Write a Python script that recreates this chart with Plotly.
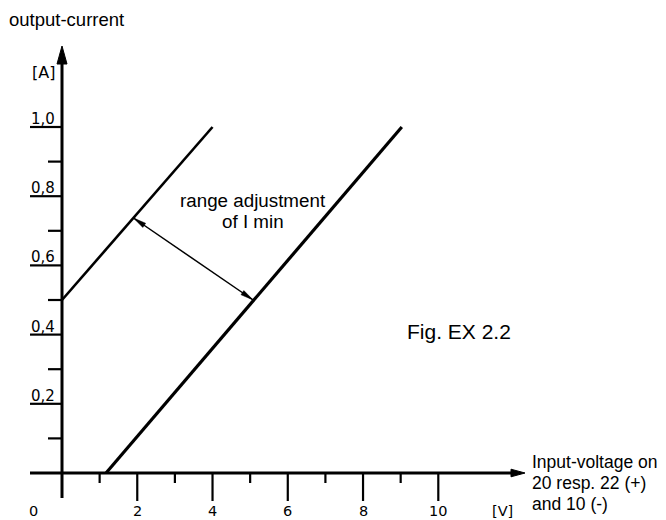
import math
import plotly.graph_objects as go

# ---------------- data ----------------
left_v = [0.0, 4.0]          # I min setting: upper line
left_a = [0.5, 1.0]
right_v = [1.17, 9.03]       # lower line
right_a = [0.0, 1.0]
arrow_v = [1.9, 5.08]        # range adjustment double arrow
arrow_a = [0.737, 0.5]

x_major = [2, 4, 6, 8, 10]
x_minor = [1, 3, 5, 7, 9]
x_labels = ["2", "4", "6", "8", "10"]
y_major = [0.2, 0.4, 0.6, 0.8, 1.0]
y_minor = [0.1, 0.3, 0.5, 0.7, 0.9]
y_labels = ["0,2", "0,4", "0,6", "0,8", "1,0"]

# ---------------- geometry (window pixels) ----------------
W, H = 666, 520
PAGE = 8                  # default body margin of the html page
OX, OY = 62.0, 473.0      # window pixel position of origin
SX, SY = 37.63, 346.0     # pixels per V, per A


def X(px):
    return (px - OX) / SX


def Y(py):
    return (OY - py) / SY


def dx(p):
    return p / SX


def dy(p):
    return p / SY


TXT = "Liberation Sans, Arial, sans-serif"
TICKF = "DejaVu Sans, sans-serif"
BLACK = "#000000"

fig = go.Figure()

fig.add_trace(go.Scatter(x=left_v, y=left_a, mode="lines",
                         line=dict(color=BLACK, width=2.6), hoverinfo="skip"))
fig.add_trace(go.Scatter(x=right_v, y=right_a, mode="lines",
                         line=dict(color=BLACK, width=3.2), hoverinfo="skip"))
fig.add_trace(go.Scatter(x=arrow_v, y=arrow_a, mode="lines",
                         line=dict(color=BLACK, width=1.5), hoverinfo="skip"))

shapes = []
# axes
shapes.append(dict(type="line", x0=0, x1=0, y0=Y(498), y1=Y(60),
                   line=dict(color=BLACK, width=3)))
shapes.append(dict(type="line", x0=X(30), x1=X(514), y0=0, y1=0,
                   line=dict(color=BLACK, width=3)))
# axis arrow heads
shapes.append(dict(type="path",
                   path=f"M0,{Y(46)} L{dx(-5)},{Y(64)} L{dx(5)},{Y(64)} Z",
                   fillcolor=BLACK, line=dict(color=BLACK, width=1)))
shapes.append(dict(type="path",
                   path=f"M{X(525)},0 L{X(511)},{dy(3.8)} L{X(511)},{dy(-3.8)} Z",
                   fillcolor=BLACK, line=dict(color=BLACK, width=1)))
# x ticks
for v in x_major:
    shapes.append(dict(type="line", x0=v, x1=v, y0=0, y1=-dy(28),
                       line=dict(color=BLACK, width=2.2)))
for v in x_minor:
    shapes.append(dict(type="line", x0=v, x1=v, y0=0, y1=-dy(10),
                       line=dict(color=BLACK, width=2.2)))
# y ticks
for a in y_major:
    shapes.append(dict(type="line", x0=X(30), x1=0, y0=a, y1=a,
                       line=dict(color=BLACK, width=2.2)))
for a in y_minor:
    shapes.append(dict(type="line", x0=X(48), x1=0, y0=a, y1=a,
                       line=dict(color=BLACK, width=2.2)))


def head(xs, ys, xe, ye, L=13, Wd=5):
    ux, uy = (xe - xs) * SX, (ye - ys) * SY
    n = math.hypot(ux, uy)
    ux, uy = ux / n, uy / n
    bx, by = -L * ux, -L * uy
    nx, ny = -uy * Wd / 2, ux * Wd / 2
    return dict(type="path",
                path=(f"M{xe},{ye} L{xe + dx(bx + nx)},{ye + dy(by + ny)} "
                      f"L{xe + dx(bx - nx)},{ye + dy(by - ny)} Z"),
                fillcolor=BLACK, line=dict(color=BLACK, width=0.5))


shapes.append(head(arrow_v[0], arrow_a[0], arrow_v[1], arrow_a[1]))
shapes.append(head(arrow_v[1], arrow_a[1], arrow_v[0], arrow_a[0]))

ann = []
for a, t in zip(y_major, y_labels):
    ann.append(dict(x=X(29), y=a, text=t, showarrow=False, xanchor="left",
                    yanchor="bottom", yshift=-3,
                    font=dict(family=TICKF, size=15, color=BLACK)))
for v, t in zip(x_major, x_labels):
    ann.append(dict(x=v, y=Y(519.5), text=t, showarrow=False, xanchor="center",
                    yanchor="bottom", borderpad=0,
                    font=dict(family=TICKF, size=14.5, color=BLACK)))
ann.append(dict(x=X(33.5), y=Y(519.5), text="0", showarrow=False,
                xanchor="center", yanchor="bottom", borderpad=0,
                font=dict(family=TICKF, size=14.5, color=BLACK)))
ann.append(dict(x=X(502.5), y=Y(519.5), text="[V]", showarrow=False,
                xanchor="center", yanchor="bottom", borderpad=0,
                font=dict(family=TICKF, size=14.5, color=BLACK)))
ann.append(dict(x=X(43.5), y=Y(72.5), text="[A]", showarrow=False,
                xanchor="center", yanchor="middle",
                font=dict(family=TICKF, size=16, color=BLACK)))

ann.append(dict(x=X(10), y=Y(19), xshift=-3, text="output-current",
                showarrow=False, xanchor="left", yanchor="middle",
                font=dict(family=TXT, size=18.5, color=BLACK)))
ann.append(dict(x=X(252.5), y=Y(200), text="range adjustment", showarrow=False,
                xanchor="center", yanchor="middle",
                font=dict(family=TXT, size=18.8, color=BLACK)))
ann.append(dict(x=X(253), y=Y(221), text="of I min", showarrow=False,
                xanchor="center", yanchor="middle",
                font=dict(family=TXT, size=18.8, color=BLACK)))
ann.append(dict(x=X(458.7), y=Y(331), text="Fig. EX 2.2", showarrow=False,
                xanchor="center", yanchor="middle",
                font=dict(family=TXT, size=21, color=BLACK)))
for py, t in zip([462, 483, 504], ["Input-voltage on", "20 resp. 22 (+)", "and 10 (-)"]):
    ann.append(dict(x=X(530), y=Y(py), text=t, showarrow=False,
                    xanchor="left", yanchor="middle",
                    font=dict(family=TXT, size=17.5, color=BLACK)))

fig.update_layout(
    width=W, height=H,
    margin=dict(l=0, r=0, t=0, b=0),
    paper_bgcolor="white", plot_bgcolor="white",
    showlegend=False,
    xaxis=dict(range=[X(PAGE), X(PAGE + W)], visible=False, fixedrange=True),
    yaxis=dict(range=[Y(PAGE + H), Y(PAGE)], visible=False, fixedrange=True),
    shapes=shapes,
    annotations=ann,
)

fig.write_html("out.html")
